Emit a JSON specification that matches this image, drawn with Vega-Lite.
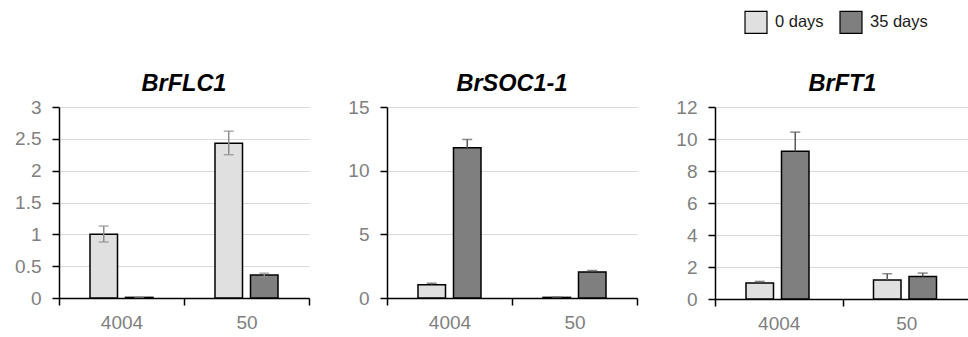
{
  "$schema": "https://vega.github.io/schema/vega-lite/v6.json",
  "padding": {"left": 14, "top": 10, "right": 0, "bottom": 2},
  "spacing": 32,
  "datasets": {
    "flc": [
      {"line": "4004", "treatment": "0 days", "value": 1.0, "lo": 0.88, "hi": 1.13, "capLo": 0.88},
      {"line": "4004", "treatment": "35 days", "value": 0.01, "lo": 0.01, "hi": 0.01},
      {"line": "50", "treatment": "0 days", "value": 2.43, "lo": 2.25, "hi": 2.62, "capLo": 2.25},
      {"line": "50", "treatment": "35 days", "value": 0.36, "lo": 0.33, "hi": 0.39, "capLo": 0.33}
    ],
    "soc": [
      {"line": "4004", "treatment": "0 days", "value": 1.05, "lo": 1.05, "hi": 1.16},
      {"line": "4004", "treatment": "35 days", "value": 11.79, "lo": 11.79, "hi": 12.45},
      {"line": "50", "treatment": "0 days", "value": 0.05, "lo": 0.05, "hi": 0.06},
      {"line": "50", "treatment": "35 days", "value": 2.05, "lo": 2.05, "hi": 2.16}
    ],
    "ft": [
      {"line": "4004", "treatment": "0 days", "value": 1.0, "lo": 1.0, "hi": 1.1},
      {"line": "4004", "treatment": "35 days", "value": 9.23, "lo": 9.23, "hi": 10.43},
      {"line": "50", "treatment": "0 days", "value": 1.19, "lo": 1.19, "hi": 1.58},
      {"line": "50", "treatment": "35 days", "value": 1.4, "lo": 1.4, "hi": 1.62}
    ]
  },
  "hconcat": [
    {
      "width": 250, "height": 191,
      "title": {"text": "BrFLC1", "offset": 3},
      "data": {"name": "flc"},
      "encoding": {
        "x": {"field": "line", "type": "nominal", "sort": ["4004", "50"], "scale": {"paddingInner": 0, "paddingOuter": 0}, "axis": {"title": null}},
        "xOffset": {"field": "treatment", "type": "nominal", "sort": ["0 days", "35 days"], "scale": {"paddingInner": 0.225, "paddingOuter": 0.873}}
      },
      "layer": [
        {
          "mark": {"type": "bar", "stroke": "black", "strokeWidth": 1.5},
          "encoding": {
            "y": {"field": "value", "type": "quantitative", "title": null, "scale": {"domain": [0, 3], "nice": false}, "axis": {"title": null, "values": [0, 0.5, 1, 1.5, 2, 2.5, 3], "format": "~g"}},
            "color": {"field": "treatment", "type": "nominal", "sort": ["0 days", "35 days"], "scale": {"domain": ["0 days", "35 days"], "range": ["#e0e0e0", "#7f7f7f"]},
              "legend": {"orient": "none", "legendX": 685, "legendY": -97, "direction": "horizontal", "title": null}}
          }
        },
        {"mark": {"type": "rule", "color": "#8c8c8c", "strokeWidth": 1.5}, "encoding": {"y": {"field": "lo", "type": "quantitative", "title": null, "axis": {"title": null, "values": [0, 0.5, 1, 1.5, 2, 2.5, 3], "format": "~g"}}, "y2": {"field": "hi"}}},
        {"mark": {"type": "tick", "color": "#8c8c8c", "thickness": 1.5, "size": 10}, "encoding": {"y": {"field": "hi", "type": "quantitative", "title": null, "axis": {"title": null, "values": [0, 0.5, 1, 1.5, 2, 2.5, 3], "format": "~g"}}}},
        {"mark": {"type": "tick", "color": "#8c8c8c", "thickness": 1.5, "size": 10}, "encoding": {"y": {"field": "capLo", "type": "quantitative", "title": null, "axis": {"title": null, "values": [0, 0.5, 1, 1.5, 2, 2.5, 3], "format": "~g"}}}}
      ]
    },
    {
      "width": 250, "height": 191,
      "title": {"text": "BrSOC1-1", "offset": 3},
      "data": {"name": "soc"},
      "encoding": {
        "x": {"field": "line", "type": "nominal", "sort": ["4004", "50"], "scale": {"paddingInner": 0, "paddingOuter": 0}, "axis": {"title": null}},
        "xOffset": {"field": "treatment", "type": "nominal", "sort": ["0 days", "35 days"], "scale": {"paddingInner": 0.138, "paddingOuter": 0.791}}
      },
      "layer": [
        {
          "mark": {"type": "bar", "stroke": "black", "strokeWidth": 1.5},
          "encoding": {
            "y": {"field": "value", "type": "quantitative", "title": null, "scale": {"domain": [0, 15], "nice": false}, "axis": {"title": null, "values": [0, 5, 10, 15], "format": "~g"}},
            "color": {"field": "treatment", "type": "nominal", "sort": ["0 days", "35 days"]}
          }
        },
        {"mark": {"type": "rule", "color": "#595959", "strokeWidth": 1.5}, "encoding": {"y": {"field": "lo", "type": "quantitative", "title": null, "axis": {"title": null, "values": [0, 5, 10, 15], "format": "~g"}}, "y2": {"field": "hi"}}},
        {"mark": {"type": "tick", "color": "#595959", "thickness": 1.5, "size": 10}, "encoding": {"y": {"field": "hi", "type": "quantitative", "title": null, "axis": {"title": null, "values": [0, 5, 10, 15], "format": "~g"}}}}
      ]
    },
    {
      "width": 255, "height": 192,
      "title": {"text": "BrFT1", "offset": 3},
      "data": {"name": "ft"},
      "encoding": {
        "x": {"field": "line", "type": "nominal", "sort": ["4004", "50"], "scale": {"paddingInner": 0, "paddingOuter": 0}, "axis": {"title": null}},
        "xOffset": {"field": "treatment", "type": "nominal", "sort": ["0 days", "35 days"], "scale": {"paddingInner": 0.108, "paddingOuter": 0.777}}
      },
      "layer": [
        {
          "mark": {"type": "bar", "stroke": "black", "strokeWidth": 1.5},
          "encoding": {
            "y": {"field": "value", "type": "quantitative", "title": null, "scale": {"domain": [0, 12], "nice": false}, "axis": {"title": null, "values": [0, 2, 4, 6, 8, 10, 12], "format": "~g"}},
            "color": {"field": "treatment", "type": "nominal", "sort": ["0 days", "35 days"]}
          }
        },
        {"mark": {"type": "rule", "color": "#595959", "strokeWidth": 1.5}, "encoding": {"y": {"field": "lo", "type": "quantitative", "title": null, "axis": {"title": null, "values": [0, 2, 4, 6, 8, 10, 12], "format": "~g"}}, "y2": {"field": "hi"}}},
        {"mark": {"type": "tick", "color": "#595959", "thickness": 1.5, "size": 10}, "encoding": {"y": {"field": "hi", "type": "quantitative", "title": null, "axis": {"title": null, "values": [0, 2, 4, 6, 8, 10, 12], "format": "~g"}}}}
      ]
    }
  ],
  "config": {
    "font": "Liberation Sans",
    "view": {"stroke": null},
    "title": {"font": "Liberation Sans", "fontSize": 23.5, "fontWeight": "bold", "fontStyle": "italic", "color": "black", "anchor": "middle"},
    "axis": {"labelFont": "Liberation Sans", "labelFontSize": 19, "labelColor": "#7f7f7f", "domainColor": "black", "domainWidth": 1.5, "tickColor": "black", "tickWidth": 1.5},
    "axisY": {"grid": true, "gridColor": "#d9d9d9", "gridWidth": 1.2, "tickSize": 7, "labelPadding": 11, "minExtent": 45, "maxExtent": 45, "domain": true},
    "axisX": {"grid": false, "labelAngle": 0, "tickBand": "extent", "tickSize": 7, "labelPadding": 8},
    "legend": {"symbolType": "square", "symbolSize": 484, "symbolStrokeColor": "black", "symbolStrokeWidth": 1.2, "symbolOpacity": 1, "labelFont": "Liberation Sans", "labelFontSize": 16.5, "labelColor": "#1a1a1a", "labelOffset": 7, "columnPadding": 13}
  }
}
